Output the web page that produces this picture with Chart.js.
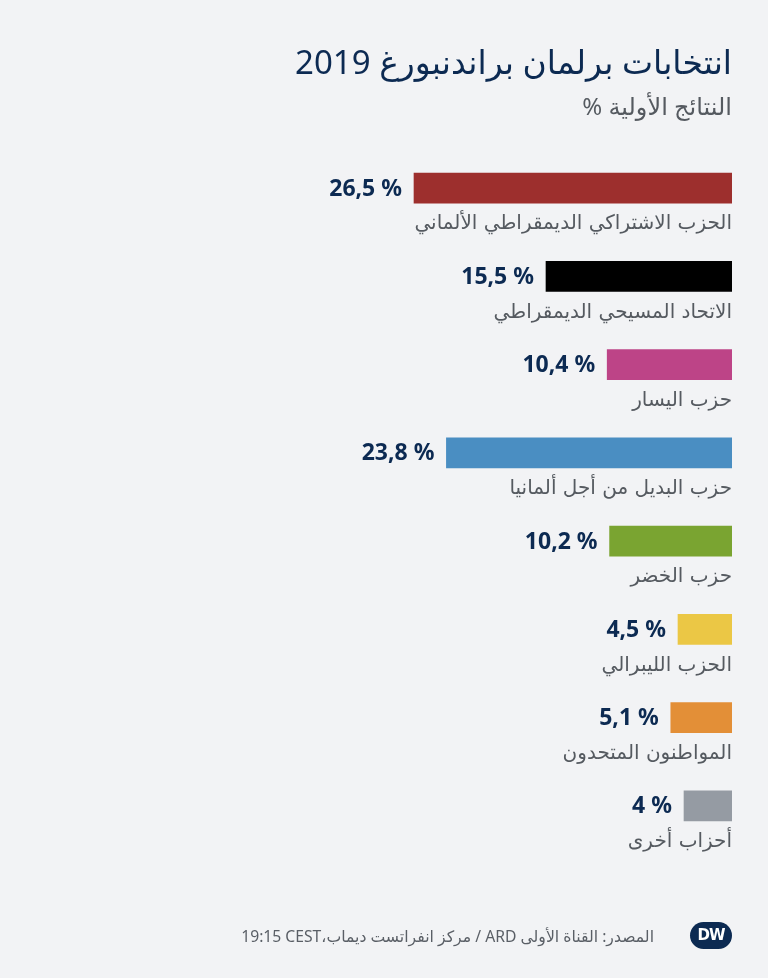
<!DOCTYPE html>
<html lang="ar" dir="rtl">

<head>
    <meta charset="UTF-8">
    <meta name="viewport" content="width=device-width, initial-scale=1.0">
    <title>انتخابات برلمان براندنبورغ 2019</title>
    <script src="https://cdn.jsdelivr.net/npm/chart.js"></script>
    <style>
        body {
            margin: 0;
            background-color: #f2f3f5;
            font-family: "Noto Sans", "DejaVu Sans", sans-serif;
        }

        .page {
            position: relative;
            width: 768px;
            height: 978px;
            overflow: hidden;
        }

        .title {
            position: absolute;
            top: 39px;
            right: 36px;
            font-size: 33px;
            color: #0c2a52;
            white-space: nowrap;
        }

        .subtitle {
            position: absolute;
            top: 89px;
            right: 36px;
            font-size: 24px;
            color: #555a60;
            white-space: nowrap;
        }

        .chart-container {
            position: absolute;
            left: 0;
            top: 0;
            width: 768px;
            height: 978px;
        }

        .footer {
            position: absolute;
            top: 922px;
            right: 36px;
            display: flex;
            align-items: center;
            direction: rtl;
        }

        .dw-logo {
            width: 42px;
            height: 27px;
            border-radius: 14px;
            background-color: #0c2a52;
            color: white;
            font-family: "DejaVu Sans", sans-serif;
            font-weight: bold;
            font-size: 15px;
            line-height: 27px;
            text-align: center;
            direction: ltr;
            letter-spacing: -1px;
        }

        .source {
            margin-right: 36px;
            font-size: 15.7px;
            color: #5a5f66;
            white-space: nowrap;
        }
    </style>
</head>

<body>
    <div class="page">
        <div class="chart-container">
            <canvas id="resultChart"></canvas>
        </div>
        <div class="title">انتخابات برلمان براندنبورغ 2019</div>
        <div class="subtitle">النتائج الأولية %</div>
        <div class="footer">
            <div class="dw-logo">DW</div>
            <div class="source">المصدر: القناة الأولى ARD / مركز انفراتست ديماب،<bdi dir="ltr">19:15 CEST</bdi></div>
        </div>
    </div>

    <script>
        // Party names, results (%) and colours
        const parties = [
            "الحزب الاشتراكي الديمقراطي الألماني",
            "الاتحاد المسيحي الديمقراطي",
            "حزب اليسار",
            "حزب البديل من أجل ألمانيا",
            "حزب الخضر",
            "الحزب الليبرالي",
            "المواطنون المتحدون",
            "أحزاب أخرى"
        ];
        const results = [26.5, 15.5, 10.4, 23.8, 10.2, 4.5, 5.1, 4];
        const valueLabels = ["26,5 %", "15,5 %", "10,4 %", "23,8 %", "10,2 %", "4,5 %", "5,1 %", "4 %"];
        const partyColors = ["#9d2f2d", "#000000", "#bd4487", "#4a8ec2", "#7aa431", "#ebc745", "#e38f37", "#959ba3"];

        // Draws the value next to each bar and the party name under it
        const barLabels = {
            id: 'barLabels',
            afterDatasetsDraw(chart) {
                const ctx = chart.ctx;
                const area = chart.chartArea;
                const bars = chart.getDatasetMeta(0).data;
                ctx.save();
                bars.forEach((bar, i) => {
                    ctx.direction = 'ltr';
                    ctx.textAlign = 'right';
                    ctx.textBaseline = 'middle';
                    ctx.fillStyle = '#0c2a52';
                    ctx.font = 'bold 23px "Noto Sans", "DejaVu Sans", sans-serif';
                    ctx.fillText(valueLabels[i], bar.x - 12, bar.y + 1);

                    ctx.direction = 'rtl';
                    ctx.fillStyle = '#555a60';
                    ctx.font = '20px "DejaVu Sans", sans-serif';
                    ctx.fillText(parties[i], area.right, bar.y + 36);
                });
                ctx.restore();
            }
        };

        const ctx = document.getElementById('resultChart').getContext('2d');
        const resultChart = new Chart(ctx, {
            type: 'bar',
            data: {
                labels: parties,
                datasets: [{
                    data: results,
                    backgroundColor: partyColors,
                    borderWidth: 0,
                    barThickness: 30
                }]
            },
            options: {
                indexAxis: 'y',
                responsive: true,
                maintainAspectRatio: false,
                animation: false,
                layout: {
                    padding: { left: 132, right: 36, top: 144, bottom: 128 }
                },
                scales: {
                    x: {
                        display: false,
                        reverse: true,
                        min: 0,
                        max: 50
                    },
                    y: {
                        display: false
                    }
                },
                plugins: {
                    legend: { display: false },
                    tooltip: { enabled: false }
                }
            },
            plugins: [barLabels]
        });
    </script>
</body>

</html>
